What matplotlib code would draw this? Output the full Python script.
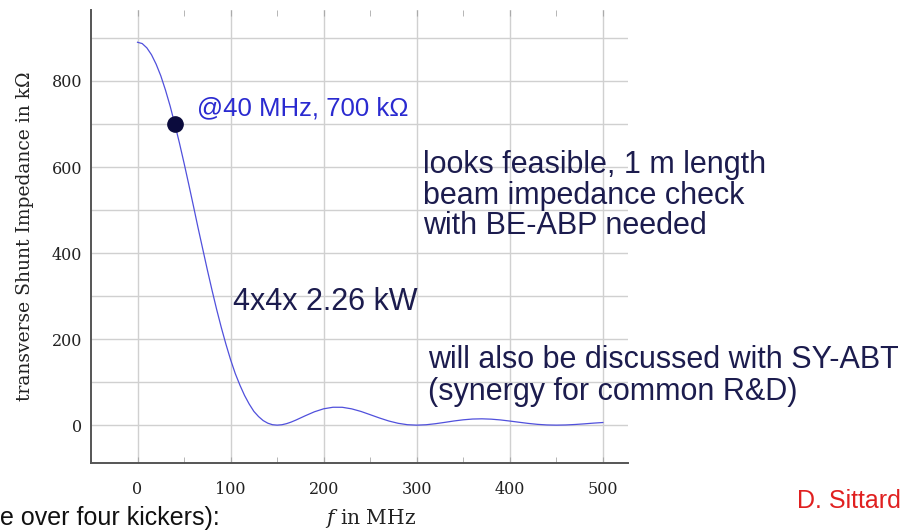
import numpy as np
import matplotlib
matplotlib.use("Agg")
import matplotlib.pyplot as plt
from matplotlib.ticker import MultipleLocator, FuncFormatter

plt.rcParams['mathtext.fontset'] = 'custom'
plt.rcParams['mathtext.it'] = 'DejaVu Serif:italic'
plt.rcParams['mathtext.rm'] = 'DejaVu Serif'

# frequency in MHz and transverse shunt impedance in kOhm
freq = [0, 5, 10, 15, 20, 25, 30, 35, 40, 45, 50, 55, 60, 65, 70, 75,
        80, 85, 90, 95, 100, 105, 110, 115, 120, 125, 130, 135, 140, 145,
        150, 155, 160, 165, 170, 180, 190,
        200, 210, 220, 230, 240, 250, 260, 270, 280, 290,
        300, 310, 320, 330, 340, 350, 360, 370, 380, 390,
        400, 410, 420, 430, 440, 450, 460, 470, 480, 490, 500]
imped = [890, 887, 877, 861, 839, 812, 779, 742, 700, 656, 609, 560, 510, 459, 410, 361,
         314, 269, 227, 188, 152, 120, 93, 69, 49, 32, 20, 10.6, 4.5, 1.0,
         0, 0.9, 3.4, 7.1, 11.6, 21.6, 31,
         38, 41.6, 41.5, 37.9, 31.9, 24.3, 16.6, 9.6, 4.3, 1.0,
         0, 0.9, 3.3, 6.4, 9.7, 12.4, 14.2, 14.7, 13.9, 12.1,
         9.5, 6.7, 4.0, 1.8, 0.45, 0, 0.4, 1.5, 3.0, 4.7, 6.1]

point_f = [40]
point_z = [700]

W, H = 905, 531
fig = plt.figure(figsize=(W / 100, H / 100), dpi=100)
ax = fig.add_axes([91 / W, 1 - 463 / H, (628 - 91) / W, (463 - 10) / H])

ax.plot(freq, imped, color='#5050dc', lw=0.9)
ax.plot(point_f, point_z, 'o', color='#0b0b3d', ms=11, zorder=5)

ax.set_xlim(-50, 527)
ax.set_ylim(-88, 965)

ax.xaxis.set_major_locator(MultipleLocator(100))
ax.xaxis.set_minor_locator(MultipleLocator(50))
ax.yaxis.set_major_locator(MultipleLocator(100))
ax.yaxis.set_major_formatter(FuncFormatter(lambda v, p: '%d' % v if v % 200 == 0 else ''))
ax.grid(True, which='major', color='#d0d0d0', lw=1.0)
ax.set_axisbelow(True)

for s in ['top', 'right']:
    ax.spines[s].set_visible(False)
for s in ['left', 'bottom']:
    ax.spines[s].set_color('#555555')
    ax.spines[s].set_linewidth(1.4)

ax.tick_params(axis='x', which='both', direction='in', top=True, length=4,
               color='#aaaaaa', labelsize=11.5, pad=13)
ax.tick_params(axis='y', which='both', length=0, labelsize=11.5, pad=6.5)
for lab in ax.get_xticklabels() + ax.get_yticklabels():
    lab.set_family('DejaVu Serif')
    lab.set_color('#222222')

ax.set_ylabel('transverse Shunt Impedance in k\u03a9', family='DejaVu Serif',
              fontsize=13.5, color='#222222')
ax.yaxis.set_label_coords(-0.106, 0.5)
ax.set_xlabel('$f$ in MHz', family='DejaVu Serif', fontsize=14.5, color='#222222')
ax.xaxis.set_label_coords(0.52, -0.097)

navy = '#1c1c4e'
sans = 'Liberation Sans'

def fx(px):
    return px / W

def fy(py):
    return 1 - py / H

fig.text(fx(197), fy(108), '@40 MHz, 700 k\u03a9', color='#2a2ad0', family=sans,
         fontsize=18.5, va='center')
fig.text(fx(233), fy(302), '4x4x 2.26 kW', color=navy, family=sans,
         fontsize=22, va='center')
fig.text(fx(423), fy(150), 'looks feasible, 1 m length\nbeam impedance check\nwith BE-ABP needed',
         color=navy, family=sans, fontsize=22, va='top', linespacing=1.03)
fig.text(fx(428), fy(345), 'will also be discussed with SY-ABT\n(synergy for common R&D)',
         color=navy, family=sans, fontsize=22, va='top', linespacing=1.08)
fig.text(fx(797), fy(501), 'D. Sittard', color='#e02020', family=sans,
         fontsize=18, va='center')
fig.text(fx(0), fy(525), 'e over four kickers):', color='#111111', family=sans,
         fontsize=18, va='baseline')

fig.savefig('out.png', dpi=100)
